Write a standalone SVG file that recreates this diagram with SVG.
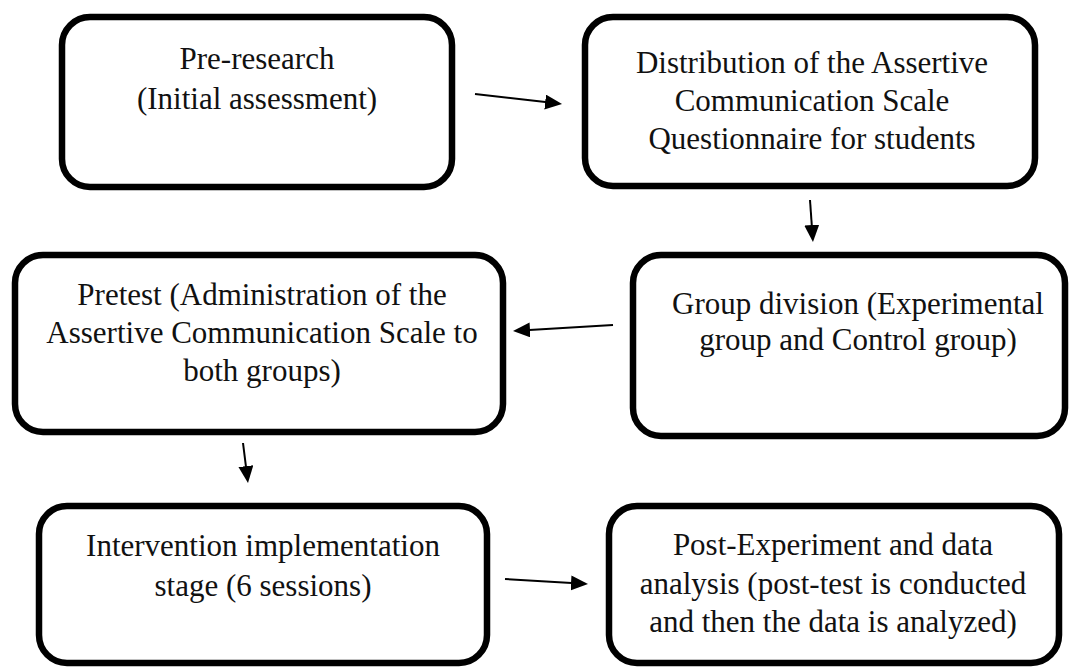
<svg xmlns="http://www.w3.org/2000/svg" width="1073" height="668" viewBox="0 0 1073 668">
  <style>
    .box { fill: #ffffff; stroke: #000000; stroke-width: 6.5; }
    .lbl { font-family: "Liberation Serif", "Times New Roman", serif; font-size: 31px; fill: #111111; text-anchor: middle; }
    .conn { stroke: #000000; stroke-width: 2; fill: none; marker-end: url(#arrow); }
  </style>
  <defs>
    <marker id="arrow" markerUnits="userSpaceOnUse" markerWidth="18" markerHeight="16" refX="9" refY="7.5" orient="auto">
      <path d="M0,0 L17,7.5 L0,15 z" fill="#000000"/>
    </marker>
  </defs>
  <rect width="1073" height="668" fill="#ffffff"/>

  <g id="node-preresearch">
    <rect class="box" x="62" y="17" width="390" height="170" rx="28" ry="28"/>
    <text class="lbl" x="257" y="69">Pre-research</text>
    <text class="lbl" x="257" y="109">(Initial assessment)</text>
  </g>

  <g id="node-distribution">
    <rect class="box" x="585" y="17" width="450" height="169" rx="28" ry="28"/>
    <text class="lbl" x="812" y="73">Distribution of the Assertive</text>
    <text class="lbl" x="812" y="111">Communication Scale</text>
    <text class="lbl" x="812" y="149">Questionnaire for students</text>
  </g>

  <g id="node-pretest">
    <rect class="box" x="15" y="255" width="488" height="177" rx="28" ry="28"/>
    <text class="lbl" x="262" y="305">Pretest (Administration of the</text>
    <text class="lbl" x="262" y="343">Assertive Communication Scale to</text>
    <text class="lbl" x="262" y="381">both groups)</text>
  </g>

  <g id="node-group">
    <rect class="box" x="633" y="255" width="432" height="181" rx="28" ry="28"/>
    <text class="lbl" x="858" y="314">Group division (Experimental</text>
    <text class="lbl" x="858" y="350">group and Control group)</text>
  </g>

  <g id="node-intervention">
    <rect class="box" x="39" y="506" width="448" height="157" rx="28" ry="28"/>
    <text class="lbl" x="263" y="556">Intervention implementation</text>
    <text class="lbl" x="263" y="596">stage (6 sessions)</text>
  </g>

  <g id="node-post">
    <rect class="box" x="609" y="506" width="450" height="157" rx="28" ry="28"/>
    <text class="lbl" x="833" y="555">Post-Experiment and data</text>
    <text class="lbl" x="833" y="594">analysis (post-test is conducted</text>
    <text class="lbl" x="833" y="632">and then the data is analyzed)</text>
  </g>

  <g id="connectors">
    <line class="conn" x1="475" y1="94" x2="554.1" y2="103.1"/>
    <line class="conn" x1="810" y1="200" x2="812.4" y2="234"/>
    <line class="conn" x1="613" y1="325" x2="521" y2="330.5"/>
    <line class="conn" x1="243" y1="443" x2="247" y2="475.1"/>
    <line class="conn" x1="505" y1="579" x2="580" y2="583.5"/>
  </g>
</svg>
